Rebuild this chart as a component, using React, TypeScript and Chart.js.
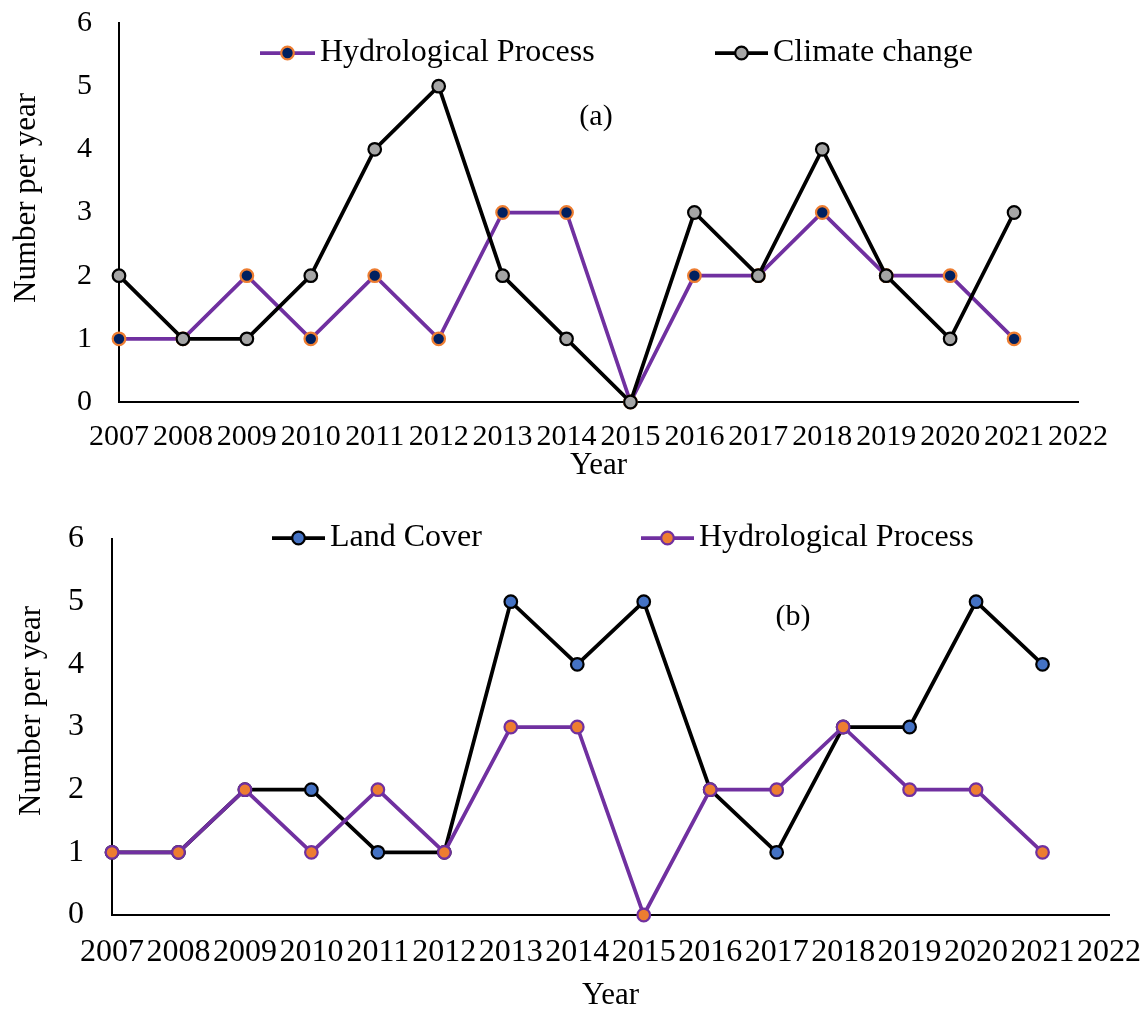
import React, { useEffect, useRef } from 'react';
import { Chart, registerables } from 'chart.js';

Chart.register(...registerables);

// ---------- data ----------
const years = ['2007', '2008', '2009', '2010', '2011', '2012', '2013', '2014', '2015', '2016', '2017', '2018', '2019', '2020', '2021', '2022'];
const hydroA = [1, 1, 2, 1, 2, 1, 3, 3, 0, 2, 2, 3, 2, 2, 1];
const climateA = [2, 1, 1, 2, 4, 5, 2, 1, 0, 3, 2, 4, 2, 1, 3];
const landB = [1, 1, 2, 2, 1, 1, 5, 4, 5, 2, 1, 3, 3, 5, 4];
const hydroB = [1, 1, 2, 1, 2, 1, 3, 3, 0, 2, 2, 3, 2, 2, 1];
const yMin = 0;
const yMax = 6;
const yStep = 1;

// ---------- styles ----------
const FONT = '"Liberation Serif", "Times New Roman", serif';
const PURPLE = '#7030A0';
const NAVY = '#002060';
const ORANGE = '#ED7D31';
const GRAY = '#A5A5A5';
const BLUE = '#4472C4';
const W = 1147;

type OverlayCfg = {
  legendY: number;
  legendSize: number;
  legend: { index: number; x0: number; x1: number; textX: number }[];
  tag: string;
  tagX: number;
  tagY: number;
  tagSize: number;
  yTitle: string;
  yTitleX: number;
  yTitleY: number;
  yTitleSize: number;
};

function makeOverlay(cfg: OverlayCfg) {
  return {
    id: 'overlay',
    afterDraw(chart: any) {
      const ctx = chart.ctx as CanvasRenderingContext2D;
      ctx.save();
      cfg.legend.forEach((item) => {
        const ds = chart.data.datasets[item.index];
        const y = cfg.legendY;
        ctx.strokeStyle = ds.borderColor;
        ctx.lineWidth = ds.borderWidth;
        ctx.beginPath();
        ctx.moveTo(item.x0, y);
        ctx.lineTo(item.x1, y);
        ctx.stroke();
        ctx.beginPath();
        ctx.arc((item.x0 + item.x1) / 2, y, ds.pointRadius, 0, Math.PI * 2);
        ctx.fillStyle = ds.pointBackgroundColor;
        ctx.fill();
        ctx.lineWidth = ds.pointBorderWidth;
        ctx.strokeStyle = ds.pointBorderColor;
        ctx.stroke();
        ctx.fillStyle = '#000';
        ctx.font = `${cfg.legendSize}px ${FONT}`;
        ctx.textAlign = 'left';
        ctx.textBaseline = 'middle';
        ctx.fillText(ds.label, item.textX, y);
      });
      ctx.fillStyle = '#000';
      ctx.font = `${cfg.tagSize}px ${FONT}`;
      ctx.textAlign = 'center';
      ctx.textBaseline = 'middle';
      ctx.fillText(cfg.tag, cfg.tagX, cfg.tagY);
      ctx.translate(cfg.yTitleX, cfg.yTitleY);
      ctx.rotate(-Math.PI / 2);
      ctx.font = `${cfg.yTitleSize}px ${FONT}`;
      ctx.fillText(cfg.yTitle, 0, 0);
      ctx.restore();
    },
  };
}

type PanelCfg = {
  height: number;
  datasets: any[];
  padTop: number;
  padRight: number;
  yWidth: number;
  xHeight: number;
  tickSize: number;
  xTickGap: number;
  yTickGap: number;
  xTitlePad: number;
  overlay: OverlayCfg;
};

function Panel({ cfg, top }: { cfg: PanelCfg; top: number }) {
  const ref = useRef<HTMLCanvasElement | null>(null);
  useEffect(() => {
    if (!ref.current) return;
    const tickFont = { family: FONT, size: cfg.tickSize };
    const chart = new Chart(ref.current, {
      type: 'line',
      data: { labels: years, datasets: cfg.datasets },
      options: {
        animation: false,
        responsive: false,
        events: [],
        layout: { padding: { top: cfg.padTop, right: cfg.padRight, left: 0, bottom: 0 } },
        plugins: { legend: { display: false }, tooltip: { enabled: false } },
        scales: {
          x: {
            type: 'category',
            offset: false,
            grid: { display: false, drawTicks: true, tickLength: cfg.xTickGap },
            border: { display: true, color: '#000', width: 2 },
            ticks: { font: tickFont, color: '#000', padding: 0, maxRotation: 0, minRotation: 0, autoSkip: false },
            title: {
              display: true,
              text: 'Year',
              color: '#000',
              font: { family: FONT, size: 31, lineHeight: 1 },
              padding: { top: 0, bottom: cfg.xTitlePad },
            },
            afterFit: (s: any) => {
              s.height = cfg.xHeight;
            },
          },
          y: {
            min: yMin,
            max: yMax,
            grid: { display: false, drawTicks: true, tickLength: cfg.yTickGap },
            border: { display: true, color: '#000', width: 2 },
            ticks: { stepSize: yStep, font: tickFont, color: '#000', padding: 0 },
            afterFit: (s: any) => {
              s.width = cfg.yWidth;
            },
          },
        },
      },
      plugins: [makeOverlay(cfg.overlay)],
    } as any);
    return () => chart.destroy();
  }, [cfg]);
  return (
    <div style={{ position: 'absolute', left: 0, top, width: W, height: cfg.height }}>
      <canvas ref={ref} width={W} height={cfg.height} style={{ width: W, height: cfg.height, display: 'block' }} />
    </div>
  );
}

const common = { borderWidth: 3.75, pointRadius: 6.3, pointHoverRadius: 6.3, pointBorderWidth: 2.2, tension: 0, clip: false, fill: false };

const cfgA: PanelCfg = {
  height: 500,
  datasets: [
    { ...common, label: 'Hydrological Process', data: hydroA, borderColor: PURPLE, pointBackgroundColor: NAVY, pointBorderColor: ORANGE, order: 1 },
    { ...common, label: 'Climate change', data: climateA, borderColor: '#000', pointBackgroundColor: GRAY, pointBorderColor: '#000', order: 0 },
  ],
  padTop: 23,
  padRight: 69,
  yWidth: 119,
  xHeight: 98,
  tickSize: 30,
  xTickGap: 17,
  yTickGap: 27,
  xTitlePad: 18.5,
  overlay: {
    legendY: 53,
    legendSize: 32,
    legend: [
      { index: 0, x0: 260, x1: 315, textX: 320 },
      { index: 1, x0: 715, x1: 768, textX: 773 },
    ],
    tag: '(a)',
    tagX: 596,
    tagY: 117,
    tagSize: 30,
    yTitle: 'Number per year',
    yTitleX: 27,
    yTitleY: 198,
    yTitleSize: 31,
  },
};

const cfgB: PanelCfg = {
  height: 512,
  datasets: [
    { ...common, label: 'Land Cover', data: landB, borderColor: '#000', pointBackgroundColor: BLUE, pointBorderColor: '#000', order: 1 },
    { ...common, label: 'Hydrological Process', data: hydroB, borderColor: PURPLE, pointBackgroundColor: ORANGE, pointBorderColor: PURPLE, order: 0 },
  ],
  padTop: 39,
  padRight: 38,
  yWidth: 112,
  xHeight: 97,
  tickSize: 32,
  xTickGap: 18,
  yTickGap: 28,
  xTitlePad: 0.5,
  overlay: {
    legendY: 38,
    legendSize: 32,
    legend: [
      { index: 0, x0: 272, x1: 325, textX: 330 },
      { index: 1, x0: 641, x1: 694, textX: 699 },
    ],
    tag: '(b)',
    tagX: 793,
    tagY: 117,
    tagSize: 30,
    yTitle: 'Number per year',
    yTitleX: 32,
    yTitleY: 211,
    yTitleSize: 31,
  },
};

export default function App() {
  return (
    <div style={{ position: 'absolute', left: 0, top: 0, width: W, height: 1012, background: '#fff' }}>
      <Panel cfg={cfgA} top={0} />
      <Panel cfg={cfgB} top={500} />
    </div>
  );
}
